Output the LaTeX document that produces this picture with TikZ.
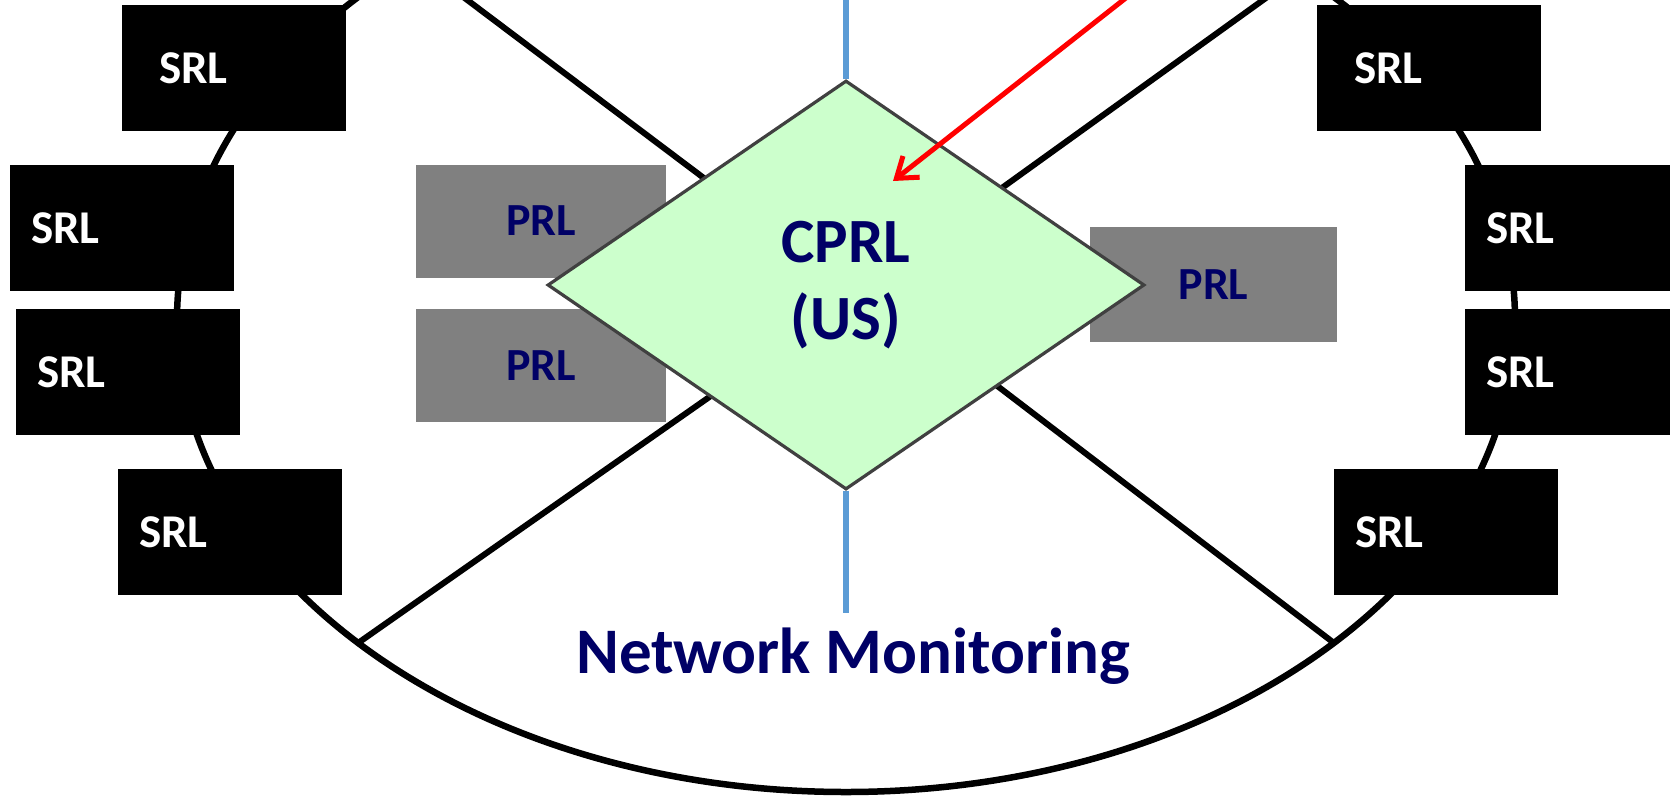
\documentclass[tikz,border=0pt]{standalone}
\usepackage{fontspec}
\setmainfont{Carlito}
\usetikzlibrary{shapes.geometric,arrows.meta}
\definecolor{navy}{RGB}{0,0,102}
\definecolor{mint}{RGB}{204,255,204}
\definecolor{dgray}{RGB}{64,64,64}
\definecolor{boxgray}{RGB}{128,128,128}
\definecolor{mblue}{RGB}{91,155,213}
\begin{document}
\begin{tikzpicture}[x=1pt,y=-1pt,
  ring/.style={line width=6.5pt, draw=black},
  xline/.style={line width=6pt, draw=black},
  srlbox/.style={fill=black, text=white, font=\fontsize{47}{50}\selectfont\bfseries,
    minimum height=126pt, align=left, anchor=west, inner ysep=0pt},
  srlnear/.style={srlbox, inner xsep=21pt, text width=182pt},
  srlfar/.style={srlbox, inner xsep=37pt, text width=150pt},
  prlbox/.style={fill=boxgray, text=navy, font=\fontsize{46}{50}\selectfont\bfseries,
    minimum width=250pt, minimum height=113pt, inner sep=0pt},
  hub/.style={diamond, fill=mint, draw=dgray, line width=3.2pt, inner sep=0pt,
    minimum width=597pt, minimum height=409pt, text=navy, align=center,
    font=\fontsize{63}{77}\selectfont\bfseries},
  monline/.style={draw=mblue, line width=6pt},
  alert/.style={draw=red, line width=5pt, line cap=round,
    -{Straight Barb[length=19pt, width=27pt]}},
  caption/.style={text=navy, font=\fontsize{65}{70}\selectfont\bfseries, anchor=base, inner sep=0pt}
]
\useasboundingbox (0,0) rectangle (1670,796);
\clip (0,0) rectangle (1670,796);

% ring
\draw[ring] (846,320) ellipse [x radius=669pt, y radius=472pt];

% SRL boxes
\node[srlfar]  (l1) at (122,68)  {SRL};
\node[srlnear] (l2) at (10,228)  {SRL};
\node[srlnear] (l3) at (16,372)  {SRL};
\node[srlnear] (l4) at (118,532) {SRL};
\node[srlfar]  (r1) at (1317,68)  {SRL};
\node[srlnear] (r2) at (1465,228) {SRL};
\node[srlnear] (r3) at (1465,372) {SRL};
\node[srlnear] (r4) at (1334,532) {SRL};

% line end points
\coordinate (tlTop) at (454,-10);
\coordinate (tlIn)  at (846,285);
\coordinate (trTop) at (1277,-10);
\coordinate (trIn)  at (867,285);
\coordinate (blRing) at (358,643);
\coordinate (blIn)   at (805,330);
\coordinate (brRing) at (1334,643);
\coordinate (brIn)   at (924,330);

\draw[xline] (tlTop) -- (tlIn);
\draw[xline] (trTop) -- (trIn);
\draw[xline] (blRing) -- (blIn);
\draw[xline] (brRing) -- (brIn);

% PRL boxes
\node[prlbox] (p1) at (541,221) {PRL};
\node[prlbox] (p2) at (541,365.5) {PRL};
\node[prlbox, minimum width=247pt, minimum height=115pt] (p3) at (1213.5,284.5) {PRL};

% central hub
\node[hub] (cprl) at (846,285) {CPRL\\(US)};

% monitoring line
\coordinate (monTop) at (846,-5);
\coordinate (monBot) at (846,613);
\draw[monline] (monTop) -- (cprl.north);
\draw[monline] (cprl.south) -- (monBot);

% red arrow
\coordinate (redTop) at (1136,-10);
\coordinate (redTip) at (893,181);
\draw[alert] (redTop) -- (redTip);

% caption
\node[caption] (mon) at (853,673) {Network Monitoring};
\end{tikzpicture}
\end{document}
